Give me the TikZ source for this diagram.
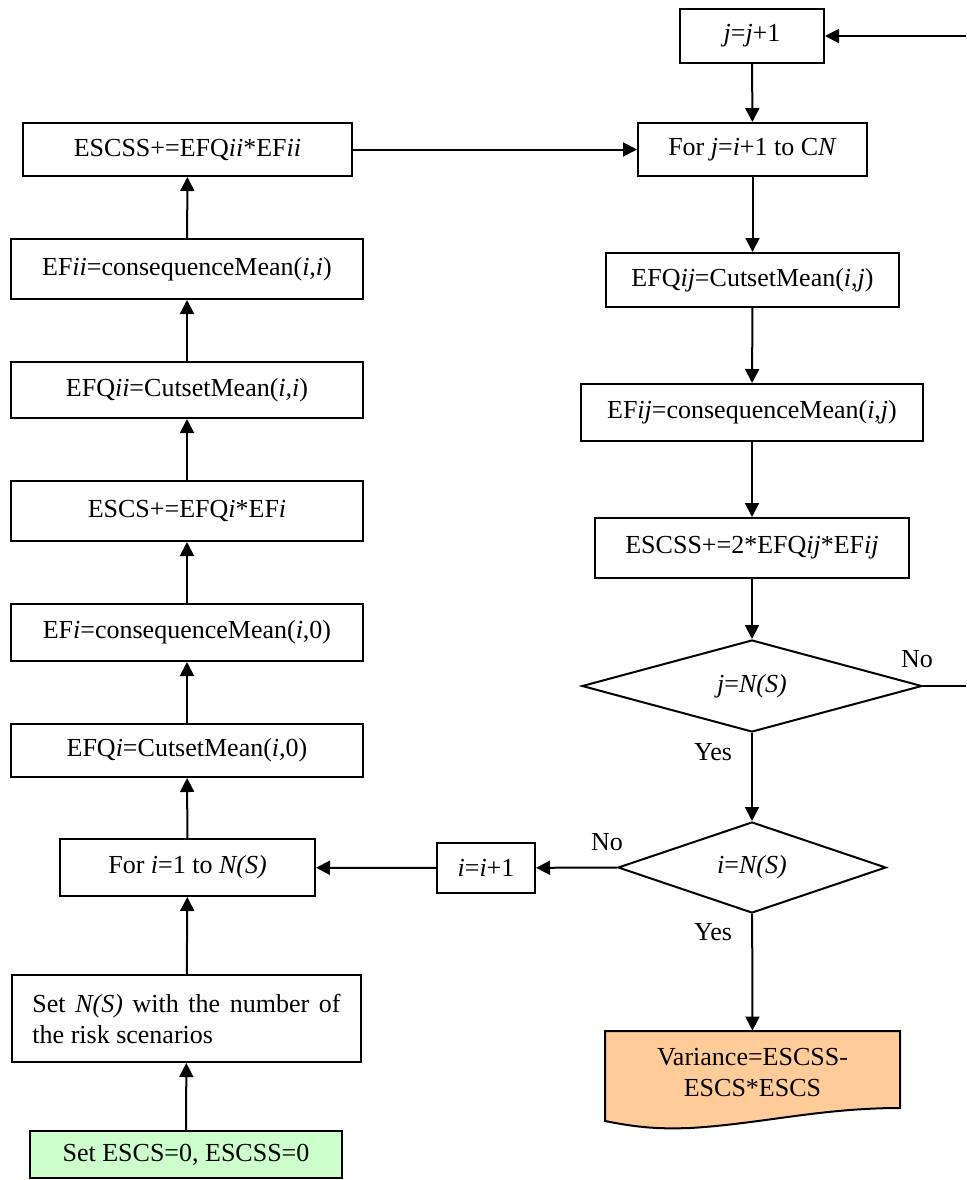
\documentclass[tikz,border=0pt]{standalone}
\usepackage{fontspec}
\setmainfont{Liberation Serif}
\usetikzlibrary{arrows.meta,shapes.geometric}

\definecolor{startgreen}{RGB}{204,255,204}
\definecolor{endpeach}{RGB}{255,204,153}

\tikzset{
  every node/.style={font=\fontsize{13}{15.5}\selectfont},
  procbox/.style={draw, line width=1pt, rectangle, inner sep=0pt, align=center},
  decision/.style={draw, line width=1pt, diamond, aspect=3.7, inner sep=0pt},
  flow/.style={line width=1pt, -{Triangle[width=7pt,length=7pt]}},
  plainline/.style={line width=1pt},
  lbl/.style={inner sep=0pt}
}

\begin{document}
\begin{tikzpicture}[x=0.5pt, y=-0.5pt]
\useasboundingbox (0,0) rectangle (966,1180);

% ---------- end block (document shape) ----------
\fill[endpeach] (605,1031) -- (900,1031) -- (900,1108)
  .. controls (820,1108) and (760,1124) .. (690,1128)
  .. controls (660,1129) and (640,1128) .. (605,1121) -- cycle;
\draw[line width=1pt] (605,1031) -- (900,1031) -- (900,1108)
  .. controls (820,1108) and (760,1124) .. (690,1128)
  .. controls (660,1129) and (640,1128) .. (605,1121) -- cycle;

% ---------- right column: inner loop over j ----------
\node[procbox, minimum width=72pt, minimum height=27pt] (jinc) at (752,36) {\textit{j}=\textit{j}+1};
\node[procbox, minimum width=114.5pt, minimum height=26.5pt] (forj) at (752.5,149.5) {For \textit{j}=\textit{i}+1 to C\textit{N}};
\node[procbox, minimum width=146.5pt, minimum height=27pt] (efqij) at (752.5,280) {EFQ\textit{ij}=CutsetMean(\textit{i},\textit{j})};
\node[procbox, minimum width=171pt, minimum height=28.5pt] (efij) at (752,412.5) {EF\textit{ij}=consequenceMean(\textit{i},\textit{j})};
\node[procbox, minimum width=157pt, minimum height=30pt] (escssij) at (752,548) {ESCSS+=2*EFQ\textit{ij}*EF\textit{ij}};
\node[decision, minimum width=170pt, minimum height=46pt] (dj) at (752,686) {\textit{j}=\textit{N(S)}};
\node[decision, minimum width=134pt, minimum height=45.5pt] (di) at (752,867.5) {\textit{i}=\textit{N(S)}};
\node[lbl, minimum width=147.5pt, minimum height=41.5pt, align=center] (var) at (752.5,1072.5) {Variance=ESCSS-\\ESCS*ESCS};

% ---------- left column: outer loop over i ----------
\node[procbox, minimum width=49pt, minimum height=25pt] (iinc) at (486,868) {\textit{i}=\textit{i}+1};
\node[procbox, minimum width=127.5pt, minimum height=28.5pt] (fori) at (187.5,867.5) {For \textit{i}=1 to \textit{N(S)}};
\node[procbox, minimum width=176pt, minimum height=26.5pt] (efqi) at (187,750.5) {EFQ\textit{i}=CutsetMean(\textit{i},0)};
\node[procbox, minimum width=176pt, minimum height=28.5pt] (efi) at (187,632.5) {EF\textit{i}=consequenceMean(\textit{i},0)};
\node[procbox, minimum width=176pt, minimum height=30pt] (escsi) at (187,511) {ESCS+=EFQ\textit{i}*EF\textit{i}};
\node[procbox, minimum width=176pt, minimum height=28pt] (efqii) at (187,390) {EFQ\textit{ii}=CutsetMean(\textit{i,i})};
\node[procbox, minimum width=176pt, minimum height=30pt] (efii) at (187,269) {EF\textit{ii}=consequenceMean(\textit{i},\textit{i})};
\node[procbox, minimum width=164.5pt, minimum height=26.5pt] (escssii) at (187.5,149.5) {ESCSS+=EFQ\textit{ii}*EF\textit{ii}};
\node[procbox, minimum width=174.5pt, minimum height=43.5pt, text width=154pt, align=justify] (setn) at (186.5,1018.5) {Set \textit{N(S)} with the number of the risk scenarios};
\node[procbox, fill=startgreen, minimum width=156pt, minimum height=23.5pt] (start) at (186,1154.5) {Set ESCS=0, ESCSS=0};

% ---------- loop-back ends at the right edge ----------
\coordinate (backin) at (966,36);
\coordinate (backout) at (966,686);

% ---------- connectors ----------
\draw[flow] (start) -- (setn);
\draw[flow] (setn) -- (fori);
\draw[flow] (fori) -- (efqi);
\draw[flow] (efqi) -- (efi);
\draw[flow] (efi) -- (escsi);
\draw[flow] (escsi) -- (efqii);
\draw[flow] (efqii) -- (efii);
\draw[flow] (efii) -- (escssii);
\draw[flow] (escssii) -- (forj);

\draw[flow] (backin) -- (jinc);
\draw[flow] (jinc) -- (forj);
\draw[flow] (forj) -- (efqij);
\draw[flow] (efqij) -- (efij);
\draw[flow] (efij) -- (escssij);
\draw[flow] (escssij) -- (dj);
\draw[flow] (dj) -- (di);
\draw[plainline] (dj.east) -- (backout);
\draw[flow] (di) -- (var.north);
\draw[flow] (di.west) -- (iinc);
\draw[flow] (iinc) -- (fori);

% ---------- branch labels ----------
\node[lbl] (nojx) at (917,659) {No};
\node[lbl] (yesj) at (713,752) {Yes};
\node[lbl] (noi) at (607,842) {No};
\node[lbl] (yesi) at (713,932) {Yes};
\end{tikzpicture}
\end{document}
